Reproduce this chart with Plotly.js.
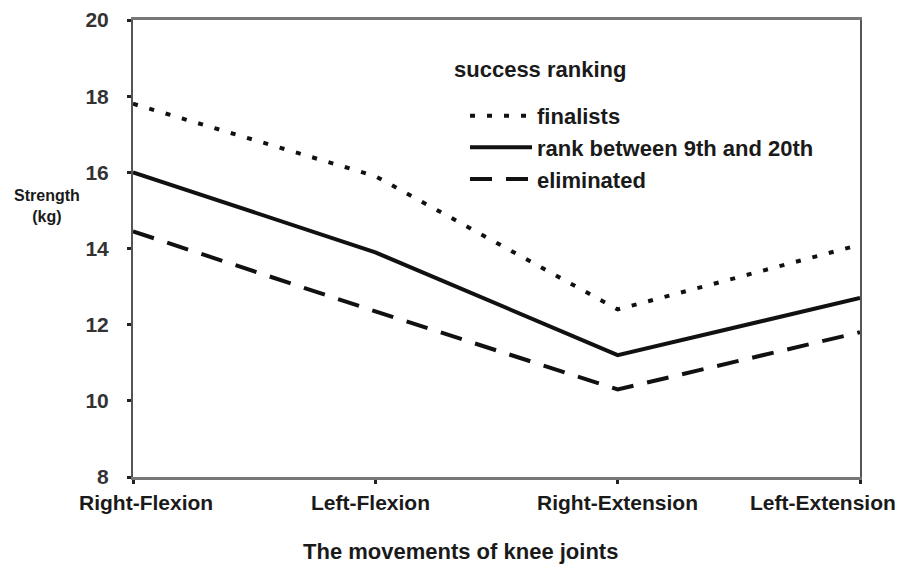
<!DOCTYPE html>
<html>
<head>
<meta charset="utf-8">
<script src="https://cdn.plot.ly/plotly-3.0.1.min.js"></script>
<style>html,body{margin:0;padding:0;background:#fff}#chart{width:902px;height:569px}</style>
</head>
<body>
<div id="chart"></div>
<script>
var categories = ["Right-Flexion", "Left-Flexion", "Right-Extension", "Left-Extension"];
var finalists = [17.8, 15.9, 12.4, 14.1];
var rank9to20 = [16.0, 13.9, 11.2, 12.7];
var eliminated = [14.45, 12.35, 10.3, 11.8];
var seriesNames = ["finalists", "rank between 9th and 20th", "eliminated"];
var legendTitle = "success ranking";
var yTicks = [8, 10, 12, 14, 16, 18, 20];

var xIdx = categories.map(function (c, i) { return i; });
var FONT = "Liberation Sans, Arial, sans-serif";
var labelShift = [13, -5, 0, 38];
var labelAnchor = ["center", "center", "center", "right"];

var traces = [
  {x: xIdx, y: finalists, name: seriesNames[0], mode: "lines", line: {color: "#111", width: 4, dash: "5px,12px"}},
  {x: xIdx, y: rank9to20, name: seriesNames[1], mode: "lines", line: {color: "#111", width: 4}},
  {x: xIdx, y: eliminated, name: seriesNames[2], mode: "lines", line: {color: "#111", width: 4, dash: "22px,14px"}}
];

var annotations = categories.map(function (c, i) {
  return {xref: "x", yref: "paper", x: xIdx[i], y: 0, yanchor: "top", xanchor: labelAnchor[i],
          xshift: labelShift[i], yshift: -12, text: "<b>" + c + "</b>", showarrow: false,
          font: {family: FONT, size: 21, color: "#1a1a1a"}};
});
annotations.push(
  {xref: "paper", yref: "paper", x: 0.4498, y: -0.162, xanchor: "center", yanchor: "middle",
   text: "<b>The movements of knee joints</b>", showarrow: false, font: {family: FONT, size: 22, color: "#1a1a1a"}},
  {xref: "paper", yref: "paper", x: -0.118, y: 0.593, xanchor: "center", yanchor: "middle",
   text: "<b>Strength<br>(kg)</b>", showarrow: false, font: {family: FONT, size: 16, color: "#1a1a1a"}},
  {xref: "paper", yref: "paper", x: (452 - 133) / 727, y: 0.8906, xanchor: "left", yanchor: "middle",
   text: "<b>" + legendTitle + "</b>", showarrow: false, font: {family: FONT, size: 22, color: "#1a1a1a"}}
);

var layout = {
  width: 902, height: 569,
  margin: {l: 133, r: 42, t: 20, b: 92},
  paper_bgcolor: "#fff", plot_bgcolor: "#fff",
  font: {family: FONT, color: "#1a1a1a", size: 22},
  showlegend: true,
  legend: {
    x: 0.4567, y: 0.836, xanchor: "left", yanchor: "top",
    bgcolor: "rgba(0,0,0,0)",
    font: {family: FONT, size: 22, color: "#1a1a1a", weight: "bold"},
    itemwidth: 62,
    tracegroupgap: 0
  },
  xaxis: {
    range: [0, 3],
    tickmode: "array",
    tickvals: xIdx,
    showticklabels: false,
    ticks: "outside", ticklen: 4, tickwidth: 3, tickcolor: "#222",
    showline: true, linecolor: "#777", linewidth: 3, mirror: true,
    showgrid: false, zeroline: false,
    fixedrange: true
  },
  yaxis: {
    range: [8, 20],
    tickmode: "array",
    tickvals: yTicks,
    ticktext: yTicks.map(String),
    ticks: "outside", ticklen: 4, tickwidth: 3, tickcolor: "#222",
    ticklabelstandoff: 14,
    showline: true, linecolor: "#555", linewidth: 2, mirror: true,
    showgrid: false, zeroline: false,
    tickfont: {family: FONT, size: 21, color: "#333", weight: "bold"},
    fixedrange: true
  },
  annotations: annotations
};

Plotly.newPlot("chart", traces, layout, {displayModeBar: false, staticPlot: true});
</script>
</body>
</html>
